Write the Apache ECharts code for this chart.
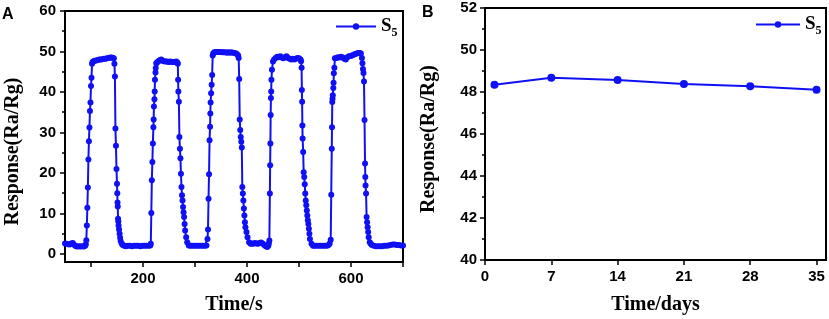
<!DOCTYPE html>
<html>
<head>
<meta charset="utf-8">
<script src="https://cdn.jsdelivr.net/npm/echarts@6/dist/echarts.min.js"></script>
<style>
  html, body { margin: 0; padding: 0; background: #fff; }
  #chart { width: 829px; height: 319px; }
</style>
</head>
<body>
<div id="chart"></div>
<script>
// panel A: response vs time (s) as [time, response]
const responseA = [
  [50,2.6],[53,2.5],[56,2.4],[59,2.3],[62,2.6],[65,2.7],[68,2.2],[71,1.9],[74,1.8],[77,1.9],[80,1.8],[83,1.9],[86,1.8],[89,2.0],[90,2.4],
  [91,3.4],[92,7.0],[93,11.4],[94,16.4],[95,23.3],[96,27.8],[97,31.2],[98,35.3],[99,37.4],[100,41.5],[101,43.5],[102,47.0],
  [103,47.4],[105,47.6],[107,47.7],[110,47.8],[113,47.9],[116,48.0],[119,48.0],[122,48.1],[125,48.2],[128,48.2],[131,48.3],[134,48.4],[137,48.5],[140,48.5],[142,48.4],[144,48.3],
  [145,47.0],[146,43.8],[147,31.0],[148,26.7],[149,21.0],[150,17.3],[150.5,15.0],[151,12.7],[151.5,11.7],[152,8.7],[152.5,8.0],[153,7.0],[154,6.0],[155,5.0],[156,4.0],[157,3.2],[159,2.6],[161,2.2],[164,2.0],
  [167,1.9],[171,2.0],[175,2.0],[179,1.9],[183,2.0],[187,2.0],[191,2.0],[195,1.9],[199,2.0],[203,2.0],[207,2.0],[211,2.0],[214,2.1],
  [215,2.5],[216,10.1],[217,18.2],[218,22.7],[219,27.3],[220,31.3],[220.5,33.2],[221,36.4],[222,38.2],[222.5,40.1],[223,43.0],[224,44.8],[224.5,45.9],[225.5,47.1],
  [227,47.3],[229,47.5],[231,47.7],[233,47.9],[235,48.0],[237,47.8],[240,47.6],[243,47.5],[246,47.5],[249,47.4],[252,47.5],[255,47.4],[258,47.4],[261,47.4],[264,47.5],[266,47.3],
  [267,47.0],[267.5,43.0],[268,40.1],[269,37.6],[270,28.9],[271,26.0],[272,23.6],[273,19.8],[274,16.5],[275,14.5],[276,13.2],[277,11.6],[278,10.3],[279,9.1],[280,7.4],[281,5.8],[283,4.1],[285,2.9],[288,2.1],
  [291,2.0],[295,2.0],[299,2.0],[303,2.0],[307,2.0],[311,2.0],[315,2.0],[319,2.0],[322,2.1],
  [324,3.7],[325,6.0],[326,13.6],[327,19.7],[328,28.1],[329,31.4],[329.5,34.7],[330,37.4],[331,39.7],[332,41.8],[333,44.2],[334,49.0],
  [335,49.5],[337,49.8],[340,49.9],[343,49.9],[346,49.9],[349,49.9],[352,49.8],[355,49.8],[358,49.8],[361,49.7],[364,49.8],[367,49.7],[370,49.8],[373,49.7],[376,49.6],[379,49.5],[381,49.3],[383,49.0],
  [384,48.4],[385,43.2],[386,33.2],[387,30.6],[388,28.9],[389,27.7],[390,26.3],[391,16.5],[392,14.9],[393,13.2],[394,11.2],[395,9.5],[396,7.8],[397,6.6],[399,5.4],[401,4.1],[404,2.9],[407,2.5],
  [409,2.6],[412,2.5],[415,2.7],[418,2.6],[421,2.5],[424,2.7],[427,2.8],[430,2.6],[433,2.2],[436,1.9],[439,1.7],[441,2.0],[442,2.6],
  [443,3.3],[444,14.9],[444.5,21.9],[445,27.3],[445.5,34.3],[446,38.5],[446.5,40.1],[447,43.0],[448,45.5],[450,47.5],
  [452,48.0],[455,48.4],[458,48.7],[461,48.6],[464,48.8],[467,48.5],[470,48.3],[473,48.6],[476,48.8],[479,48.4],[482,48.2],[485,48.0],[488,48.2],[491,48.0],[494,48.2],[497,48.4],[500,48.3],[503,48.0],
  [504,47.6],[505,46.0],[505.5,40.5],[506,37.6],[506.5,31.7],[507,28.5],[508,25.2],[509,20.2],[510,19.0],[511,17.2],[512,14.9],[513,13.2],[514,12.0],[515,10.7],[516,9.5],[517,8.3],[518,7.4],[519,6.2],[520,5.0],[521,3.7],[524,2.5],[527,2.0],
  [530,2.0],[534,2.0],[538,2.0],[542,2.0],[546,2.0],[550,2.0],[554,2.0],[557,2.2],[559,2.6],
  [561,3.5],[562,14.6],[563,26.0],[563.5,31.3],[564,37.5],[564.5,38.3],[565,39.2],[566,41.0],[566.5,42.3],[567,44.6],[568,46.0],[569,48.3],
  [572,48.4],[575,48.6],[578,48.5],[581,48.7],[584,48.5],[587,48.2],[590,48.0],[593,48.6],[596,48.8],[599,48.9],[602,49.0],[605,49.2],[608,49.4],[611,49.5],[614,49.6],[617,49.6],[619,49.5],
  [621,48.4],[622,47.1],[623,45.7],[624,44.7],[625,42.6],[626,33.1],[627,22.3],[627.5,19.0],[628,16.9],[629,14.9],[630,9.1],[631,7.8],[632,6.6],[633,5.4],[634,4.1],[636,2.9],[638,2.5],
  [640,2.2],[644,2.0],[648,1.9],[652,1.9],[656,1.9],[660,1.9],[664,2.0],[668,2.0],[672,2.1],[676,2.2],[680,2.3],[684,2.3],[688,2.2],[692,2.2],[696,2.1],[700,2.1]
];

// panel B: stability over days
const daysB = [1, 7, 14, 21, 28, 35];
const responseB = [48.35, 48.68, 48.57, 48.38, 48.27, 48.11];

// tick values
const xTicksA = [100, 200, 300, 400, 500, 600, 700];
const xLabelsA = [200, 400, 600];
const yTicksA = [0, 10, 20, 30, 40, 50, 60];
const xTicksB = [0, 7, 14, 21, 28, 35];
const yTicksB = [40, 42, 44, 46, 48, 50, 52];

const blue = '#1010f5';
const tickFont = { color: '#000', fontFamily: 'Liberation Sans', fontWeight: 'bold', fontSize: 15 };
const titleFont = { color: '#000', fontFamily: 'Liberation Serif', fontWeight: 'bold', fontSize: 20 };
const legendRich = {
  s: { fontFamily: 'Liberation Serif', fontWeight: 'bold', fontSize: 19, color: '#000' },
  sub: { fontFamily: 'Liberation Serif', fontWeight: 'bold', fontSize: 12, color: '#000', padding: [12, 0, 0, 0] }
};

const axisLine = { show: true, onZero: false, lineStyle: { color: '#000', width: 2 } };

const chart = echarts.init(document.getElementById('chart'), null, { renderer: 'canvas' });

chart.setOption({
  animation: false,
  backgroundColor: '#fff',
  grid: [
    { left: 65, top: 11, width: 338, height: 251, outerBoundsMode: 'none', show: true, borderColor: '#000', borderWidth: 2 },
    { left: 485, top: 8, width: 341, height: 252, outerBoundsMode: 'none', show: true, borderColor: '#000', borderWidth: 2 }
  ],
  xAxis: [
    {
      type: 'value', gridIndex: 0, min: 50, max: 700, minInterval: 100, maxInterval: 100,
      name: 'Time/s', nameLocation: 'middle', nameGap: 33, nameTextStyle: titleFont,
      axisLine: axisLine,
      axisTick: { show: true, length: 5, customValues: xTicksA, lineStyle: { color: '#000', width: 1.5 } },
      axisLabel: { ...tickFont, margin: 9, customValues: xLabelsA },
      splitLine: { show: false }
    },
    {
      type: 'value', gridIndex: 1, min: 0, max: 36, minInterval: 7, maxInterval: 7,
      name: 'Time/days', nameLocation: 'middle', nameGap: 35, nameTextStyle: titleFont,
      axisLine: axisLine,
      axisTick: { show: true, length: 5, customValues: xTicksB, lineStyle: { color: '#000', width: 1.5 } },
      axisLabel: { ...tickFont, margin: 9, customValues: xTicksB },
      splitLine: { show: false }
    }
  ],
  yAxis: [
    {
      type: 'value', gridIndex: 0, min: -2, max: 60, minInterval: 10, maxInterval: 10,
      name: 'Response(Ra/Rg)', nameLocation: 'middle', nameGap: 42,
      nameTextStyle: { ...titleFont, padding: [0, 30, 0, 0] },
      axisLine: axisLine,
      axisTick: { show: true, length: 5, customValues: yTicksA, lineStyle: { color: '#000', width: 1.5 } },
      minorTick: { show: true, splitNumber: 2, length: 3, lineStyle: { color: '#000', width: 1.5 } },
      axisLabel: { ...tickFont, margin: 9, customValues: yTicksA },
      splitLine: { show: false }
    },
    {
      type: 'value', gridIndex: 1, min: 40, max: 52, interval: 2,
      name: 'Response(Ra/Rg)', nameLocation: 'middle', nameGap: 46,
      nameTextStyle: { ...titleFont, padding: [0, 10, 0, 0] },
      axisLine: axisLine,
      axisTick: { show: true, length: 5, customValues: yTicksB, lineStyle: { color: '#000', width: 1.5 } },
      minorTick: { show: true, splitNumber: 2, length: 3, lineStyle: { color: '#000', width: 1.5 } },
      axisLabel: { ...tickFont, margin: 8, customValues: yTicksB },
      splitLine: { show: false }
    }
  ],
  legend: [
    {
      data: ['S5 (A)'], left: 330, top: 12, itemWidth: 40, itemHeight: 8, itemGap: 2,
      formatter: () => '{s|S}{sub|5}', textStyle: { rich: legendRich }
    },
    {
      data: ['S5 (B)'], left: 750, top: 10, itemWidth: 44, itemHeight: 8, itemGap: 2,
      formatter: () => '{s|S}{sub|5}', textStyle: { rich: legendRich }
    }
  ],
  graphic: [
    { type: 'text', left: 2, top: 7, style: { text: 'A', font: 'bold 16px "Liberation Sans"', fill: '#000' } },
    { type: 'text', left: 422, top: 5, style: { text: 'B', font: 'bold 16px "Liberation Sans"', fill: '#000' } }
  ],
  series: [
    {
      name: 'S5 (A)', type: 'line', xAxisIndex: 0, yAxisIndex: 0,
      data: responseA, symbol: 'circle', symbolSize: 6, showAllSymbol: true,
      lineStyle: { color: blue, width: 2 }, itemStyle: { color: blue }
    },
    {
      name: 'S5 (B)', type: 'line', xAxisIndex: 1, yAxisIndex: 1,
      data: daysB.map((d, i) => [d, responseB[i]]), symbol: 'circle', symbolSize: 8,
      lineStyle: { color: blue, width: 2 }, itemStyle: { color: blue }
    }
  ]
});
</script>
</body>
</html>
